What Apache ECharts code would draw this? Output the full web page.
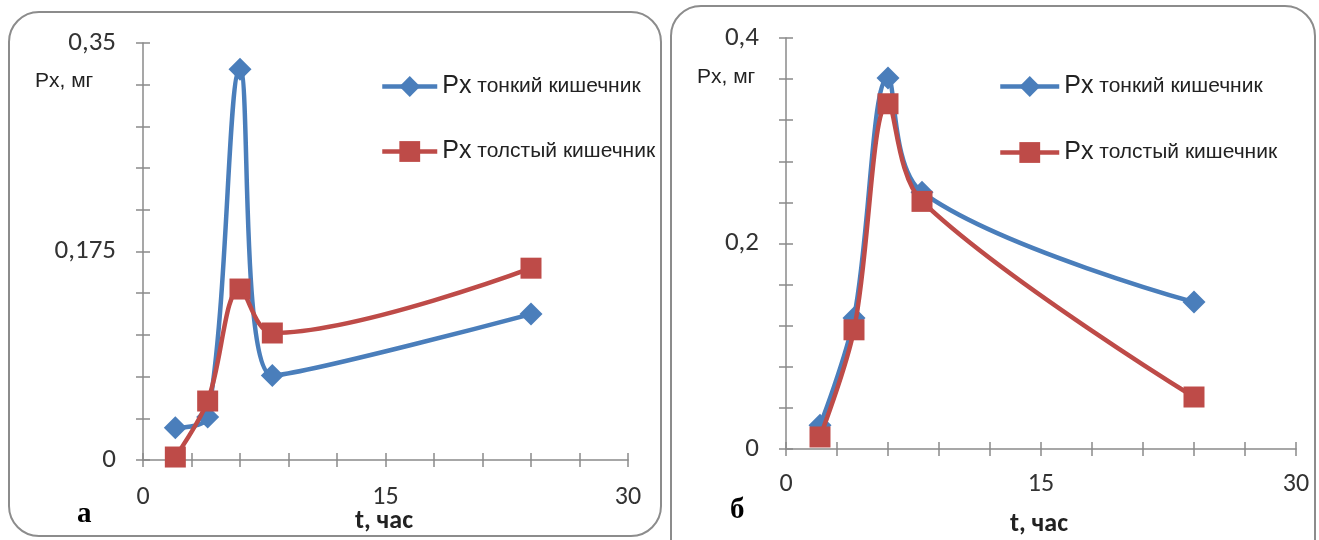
<!DOCTYPE html>
<html lang="ru">
<head>
    <meta charset="utf-8">
    <title>Px</title>
    <script src="https://cdn.jsdelivr.net/npm/echarts@6/dist/echarts.min.js"></script>
    <style>
        html, body {margin: 0; padding: 0; background: #fff;}
        #chart {width: 1319px; height: 540px;}
    </style>
</head>
<body>
<div id="chart"></div>
<script>
    // время, ч
    var hours = [2, 4, 6, 8, 24];
    // а: Px, мг
    var smallA = [0.027, 0.036, 0.328, 0.071, 0.1225];
    var largeA = [0.0025, 0.0495, 0.1435, 0.1066, 0.161];
    // б: Px, мг
    var smallB = [0.023, 0.1275, 0.361, 0.250, 0.143];
    var largeB = [0.0117, 0.116, 0.336, 0.241, 0.0506];

    var nameSmall = 'Px тонкий кишечник';
    var nameLarge = 'Px толстый кишечник';
    var ticksA = [0, 0.175, 0.35];
    var ticksB = [0, 0.2, 0.4];
    var ticksX = [0, 15, 30];

    var font = 'Carlito, "Liberation Sans", Arial, sans-serif';
    var sans = '"Liberation Sans", Arial, sans-serif';
    var axisColor = '#8a8a8a';
    var blue = '#4A7EBB';
    var red = '#BE4B48';

    function pairs(xs, ys) {
        return xs.map(function (x, i) { return [x, ys[i]]; });
    }

    function pick(list) {
        return function (v) {
            for (var i = 0; i < list.length; i++) {
                if (Math.abs(v - list[i]) < 1e-6) {
                    return String(list[i]).replace('.', ',');
                }
            }
            return '';
        };
    }

    function xAxis(grid, inside, margin) {
        return {
            type: 'value', gridIndex: grid, min: 0, max: 30, interval: 3,
            axisLine: {show: !inside, lineStyle: {color: axisColor, width: 1.5}},
            axisTick: {show: true, inside: inside, length: 7, lineStyle: {color: axisColor, width: 1.5}},
            axisLabel: {show: !inside, margin: margin, color: '#333', fontSize: 26, fontFamily: font, formatter: pick(ticksX)},
            splitLine: {show: false}
        };
    }

    function yAxis(grid, inside, max, interval, labels) {
        return {
            type: 'value', gridIndex: grid, min: 0, max: max, interval: interval,
            axisLine: {show: !inside, lineStyle: {color: axisColor, width: 1.5}},
            axisTick: {show: true, inside: inside, length: 7, lineStyle: {color: axisColor, width: 1.5}},
            axisLabel: {show: !inside, margin: 27, color: '#333', fontSize: 27, fontFamily: font, formatter: pick(labels)},
            splitLine: {show: false}
        };
    }

    function line(name, data, grid, small) {
        return {
            name: name, type: 'line', xAxisIndex: grid, yAxisIndex: grid,
            data: data, smooth: 0.35,
            symbol: small ? 'diamond' : 'rect',
            symbolSize: small ? 23 : 21,
            itemStyle: {color: small ? blue : red},
            lineStyle: {color: small ? blue : red, width: 4.5},
            z: small ? 2 : 3
        };
    }

    function legend(left, itemWidth, gap) {
        return {
            orient: 'vertical', left: left, top: 69,
            itemWidth: itemWidth, itemHeight: 26, itemGap: gap,
            lineStyle: {width: 4.5},
            data: [nameSmall, nameLarge],
            formatter: function (n) { return '{p|Px}{r|' + n.slice(2) + '}'; },
            textStyle: {
                color: '#222',
                rich: {
                    p: {fontSize: 25, fontFamily: sans, color: '#222'},
                    r: {fontSize: 21, fontFamily: sans, color: '#222'}
                }
            }
        };
    }

    var gridA = {left: 143, top: 43, width: 485, height: 417};
    var gridB = {left: 786, top: 38, width: 510, height: 411};

    var chart = echarts.init(document.getElementById('chart'));
    chart.setOption({
        animation: false,
        grid: [gridA, gridB, gridA, gridB],
        xAxis: [xAxis(0, false, 24), xAxis(1, false, 22), xAxis(2, true), xAxis(3, true)],
        yAxis: [
            yAxis(0, false, 0.35, 0.035, ticksA),
            yAxis(1, false, 0.4, 0.04, ticksB),
            yAxis(2, true, 0.35, 0.035, ticksA),
            yAxis(3, true, 0.4, 0.04, ticksB)
        ],
        legend: [legend(375, 55, 40), legend(993, 59, 41)],
        series: [
            line(nameSmall, pairs(hours, smallA), 0, true),
            line(nameLarge, pairs(hours, largeA), 0, false),
            line(nameSmall, pairs(hours, smallB), 1, true),
            line(nameLarge, pairs(hours, largeB), 1, false)
        ],
        graphic: [
            {type: 'rect', shape: {x: 9, y: 12, width: 652, height: 524, r: 30},
                style: {fill: 'none', stroke: '#8c8c8c', lineWidth: 2}, silent: true},
            {type: 'rect', shape: {x: 671, y: 6, width: 644, height: 580, r: 30},
                style: {fill: 'none', stroke: '#8c8c8c', lineWidth: 2}, silent: true},
            {type: 'text', left: 35, top: 71, style: {text: 'Px, мг', fontSize: 21, fontFamily: sans, fill: '#222'}},
            {type: 'text', left: 697, top: 67, style: {text: 'Px, мг', fontSize: 21, fontFamily: sans, fill: '#222'}},
            {type: 'text', left: 355, top: 508, style: {text: 't, час', fontSize: 26, fontWeight: 'bold', fontFamily: font, fill: '#222'}},
            {type: 'text', left: 1010, top: 511, style: {text: 't, час', fontSize: 26, fontWeight: 'bold', fontFamily: font, fill: '#222'}},
            {type: 'text', left: 77, top: 500, style: {text: 'а', fontSize: 29, fontWeight: 'bold', fontFamily: '"Liberation Serif", "DejaVu Serif", serif', fill: '#000'}},
            {type: 'text', left: 730, top: 496, style: {text: 'б', fontSize: 29, fontWeight: 'bold', fontFamily: '"Liberation Serif", "DejaVu Serif", serif', fill: '#000'}}
        ]
    });
</script>
</body>
</html>
